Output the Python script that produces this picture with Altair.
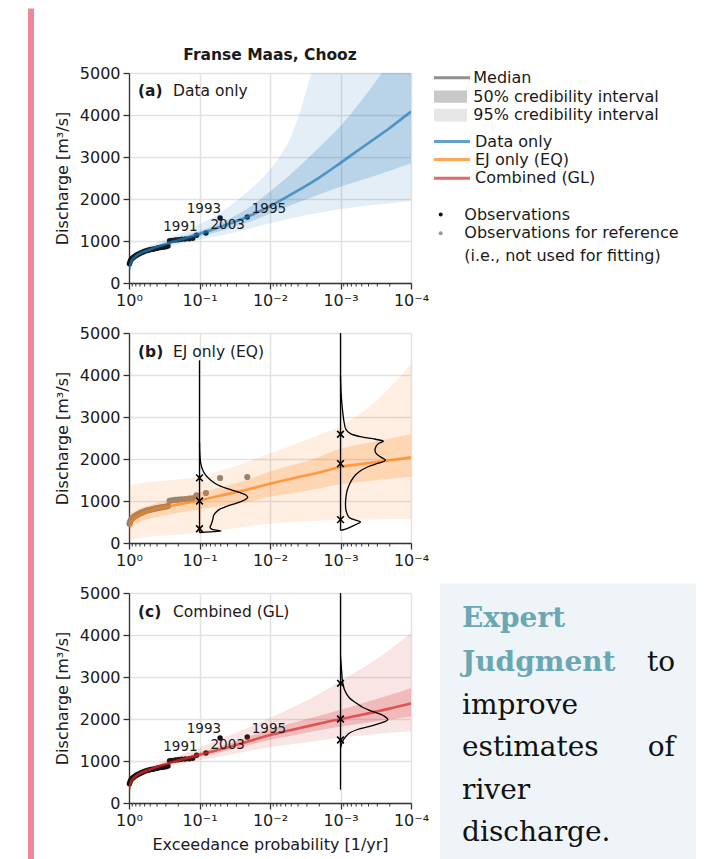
import altair as alt
import pandas as pd

FONT = "DejaVu Sans"
SERIF = "DejaVu Serif"

# ---------------- data ----------------
curve_p = [0.99, 0.95, 0.9, 0.8, 0.7, 0.6, 0.5, 0.4, 0.3, 0.2, 0.1, 0.05, 0.02,
           0.01, 0.005, 0.002, 0.001, 0.0005, 0.0002, 0.0001]

# (a) Data only
a_med = [320, 470, 550, 640, 700, 750, 800, 860, 930, 1020, 1170, 1340, 1590, 1830, 2110, 2510, 2860, 3220, 3690, 4080]
a_lo50 = [270, 420, 510, 600, 670, 720, 770, 830, 890, 980, 1110, 1240, 1450, 1650, 1860, 2110, 2290, 2450, 2670, 2850]
a_hi50 = [380, 520, 590, 680, 740, 790, 840, 900, 970, 1070, 1240, 1430, 1790, 2180, 2600, 3230, 3740, 4350, 5300, 6200]
a_lo95 = [180, 360, 460, 560, 630, 690, 730, 790, 840, 920, 1030, 1130, 1290, 1420, 1540, 1670, 1760, 1830, 1900, 1950]
a_hi95 = [450, 580, 640, 730, 790, 840, 890, 960, 1040, 1150, 1400, 1680, 2200, 2700, 3500, 5600, 7000, 8500, 11000, 13000]

# (b) EJ only (EQ)
b_med = [380, 480, 540, 620, 680, 730, 770, 820, 860, 920, 1010, 1130, 1280, 1410, 1530, 1680, 1810, 1880, 1970, 2040]
b_lo50 = [200, 330, 380, 450, 500, 540, 580, 620, 660, 720, 800, 880, 980, 1100, 1180, 1300, 1400, 1460, 1530, 1580]
b_hi50 = [720, 720, 720, 770, 830, 860, 900, 950, 1000, 1060, 1200, 1330, 1520, 1700, 1850, 2050, 2250, 2360, 2490, 2590]
b_lo95 = [20, 60, 80, 100, 120, 135, 150, 165, 180, 200, 230, 300, 400, 460, 500, 530, 545, 555, 570, 580]
b_hi95 = [1370, 1380, 1390, 1400, 1420, 1435, 1450, 1470, 1490, 1520, 1580, 1720, 1940, 2130, 2320, 2580, 2780, 3100, 3700, 4270]

# (c) Combined (GL)
c_med = [330, 470, 550, 640, 700, 750, 800, 860, 930, 1010, 1150, 1280, 1470, 1620, 1740, 1890, 2000, 2100, 2250, 2370]
c_lo50 = [280, 440, 520, 610, 680, 730, 780, 840, 900, 980, 1100, 1210, 1380, 1500, 1600, 1730, 1820, 1890, 1990, 2060]
c_hi50 = [380, 500, 580, 670, 730, 780, 830, 890, 960, 1050, 1210, 1360, 1580, 1760, 1900, 2080, 2220, 2370, 2570, 2740]
c_lo95 = [150, 380, 470, 570, 640, 690, 740, 790, 850, 920, 1020, 1110, 1240, 1330, 1400, 1490, 1560, 1610, 1670, 1710]
c_hi95 = [460, 570, 630, 710, 770, 820, 870, 940, 1020, 1120, 1320, 1530, 1800, 2030, 2260, 2600, 2900, 3200, 3650, 4050]

# observations (annual maxima) with empirical exceedance probability
obs_p = [0.021, 0.051, 0.081, 0.11, 0.125, 0.14, 0.16, 0.18, 0.2, 0.22, 0.245, 0.265, 0.28, 0.30,
         0.32, 0.34, 0.36, 0.38, 0.40, 0.43, 0.46, 0.49, 0.52, 0.55, 0.58, 0.61, 0.64, 0.67, 0.70,
         0.73, 0.76, 0.79, 0.82, 0.85, 0.88, 0.91, 0.94, 0.965, 0.985]
obs_q = [1571, 1548, 1190, 1136, 1065, 1055, 1048, 1040, 1032, 1025, 1015, 1005, 880, 865,
         858, 850, 845, 838, 830, 818, 805, 795, 785, 775, 765, 750, 735, 720, 705,
         690, 675, 660, 640, 620, 600, 575, 545, 505, 460]

# labelled years
yr_left = ["1995", "2003"]
yr_left_p = [0.021, 0.081]
yr_left_q = [1571, 1190]
yr_right = ["1993", "1991"]
yr_right_p = [0.051, 0.11]
yr_right_q = [1548, 1136]

# expert-judgment densities (width in plot pixels) -- panel b at 1/10 yr
b1_p0 = 0.1
b1_q = [250, 265, 285, 300, 330, 380, 430, 500, 580, 650, 720, 800, 870, 950, 1030, 1090, 1150, 1220, 1300, 1400, 1500, 1620, 1750, 1900, 2100, 2400]
b1_w = [0, 10, 21.5, 19, 12, 10.5, 11.5, 12.5, 13.5, 14, 16, 20, 27, 37, 45.5, 48.3, 46, 38, 27, 17, 11, 6, 3, 1.2, 0.4, 0]
b1_rule = [250, 4350]
b1_x = [340, 1000, 1550]
# panel b at 1/1000 yr
b2_p0 = 0.001
b2_q = [300, 330, 400, 470, 500, 540, 600, 700, 800, 938, 1100, 1255, 1400, 1571, 1700, 1810, 1900, 1969, 2050, 2120, 2200, 2300, 2367, 2420, 2470, 2530, 2605, 2700, 2921, 3238, 3600, 4000]
b2_w = [0, 5, 12, 18, 20, 16, 9, 6.5, 5.3, 5, 5.5, 6.7, 9, 13.3, 19, 27, 38, 45, 40, 36, 34.5, 35.5, 38, 43, 35, 20, 10, 5.5, 3.3, 1.7, 0.5, 0]
b2_rule = [300, 5200]
b2_x = [557, 1890, 2590]
# panel c at 1/1000 yr
c1_p0 = 0.001
c1_q = [1300, 1400, 1507, 1600, 1667, 1750, 1824, 1900, 1983, 2080, 2181, 2280, 2381, 2500, 2698, 2900, 3175, 3490]
c1_w = [0, 1, 3, 6, 9, 17, 29, 40, 47.3, 43, 32, 22, 15.7, 9, 4, 2, 1, 0]
c1_rule = [317, 5200]
c1_x = [1500, 2000, 2850]

decades = [1, 0.1, 0.01, 0.001, 0.0001]
minor_p = [m * 10.0 ** (-k) for k in range(1, 5) for m in range(2, 10)]

# ---------------- layout constants ----------------
W, H = 282, 210
DEC_PX = W / 4.0
BLUE, ORANGE, RED = "#1f77b4", "#ff7f0e", "#d62728"
FS = 16

one = pd.DataFrame({"k": [0]})
xs = alt.Scale(type="log", domain=[0.0001, 1], reverse=True, nice=False)
ys = alt.Scale(domain=[0, 5000], nice=False, zero=False)

LBL = ("datum.value > 0.5 ? '10⁰' : datum.value > 0.05 ? '10⁻¹' : "
       "datum.value > 0.005 ? '10⁻²' : datum.value > 0.0005 ? '10⁻³' : '10⁻⁴'")


def X(field, xtitle):
    return alt.X(f"{field}:Q", scale=xs,
                 axis=alt.Axis(values=decades, labelExpr=LBL, grid=True, labelFlush=False,
                               labelOverlap=False, tickSize=6, labelPadding=3, labelFontSize=FS,
                               title="Exceedance probability [1/yr]" if xtitle else None,
                               titleFontSize=FS, titleFontWeight="normal", titlePadding=8))


def Y(field):
    return alt.Y(f"{field}:Q", scale=ys,
                 axis=alt.Axis(values=[0, 1000, 2000, 3000, 4000, 5000], grid=True, tickSize=6,
                               format="d", labelPadding=3, labelFontSize=FS, title="Discharge [m³/s]",
                               titleFontSize=FS, titleFontWeight="normal", titlePadding=9))


def txt(s, x, y, size=FS, weight="normal", align="left", color="#1a1a1a", font=FONT, baseline="middle"):
    return alt.Chart(one).mark_text(text=s, fontSize=size, fontWeight=weight, align=align,
                                    baseline=baseline, color=color, font=font).encode(
        x=alt.value(x), y=alt.value(y))


def rect(x, x2, y, y2, color):
    return alt.Chart(one).mark_rect(color=color).encode(
        x=alt.value(x), x2=alt.value(x2), y=alt.value(y), y2=alt.value(y2))


def hline(x, x2, y, color, width):
    return alt.Chart(one).mark_rule(color=color, strokeWidth=width).encode(
        x=alt.value(x), x2=alt.value(x2), y=alt.value(y))


def dot(x, y, color, size):
    return alt.Chart(one).mark_circle(color=color, size=size, opacity=1).encode(
        x=alt.value(x), y=alt.value(y))


def density_layers(p0, qs, ws, rule, xq, xtitle):
    dens = pd.DataFrame({"p": [p0 * 10 ** (-w / DEC_PX) for w in ws], "q": qs, "i": list(range(len(qs)))})
    r = pd.DataFrame({"p": [p0], "q": [rule[0]], "q2": [rule[1]]})
    xm = pd.DataFrame({"p": [p0] * len(xq), "q": xq})
    return [
        alt.Chart(r).mark_rule(color="black", strokeWidth=1.3, clip=True).encode(
            x=X("p", xtitle), y=Y("q"), y2="q2"),
        alt.Chart(dens).mark_line(color="black", strokeWidth=1.3, clip=True, interpolate="catmull-rom").encode(
            x=X("p", xtitle), y=Y("q"), order="i:Q"),
        alt.Chart(xm).mark_point(shape="M-1,-1L1,1M-1,1L1,-1", filled=False, color="black",
                                 strokeWidth=1.6, size=45, opacity=1).encode(x=X("p", xtitle), y=Y("q")),
    ]


def panel(color, med, lo50, hi50, lo95, hi95, pt_color, pt_size, xtitle, year_labels, extra_front, tag, name, tag_y):
    df = pd.DataFrame({"p": curve_p, "med": med, "lo50": lo50, "hi50": hi50, "lo95": lo95, "hi95": hi95})
    obs = pd.DataFrame({"p": obs_p, "q": obs_q})
    minor = pd.DataFrame({"p": minor_p})
    layers = [
        alt.Chart(obs).mark_circle(color=pt_color, size=pt_size, opacity=1).encode(x=X("p", xtitle), y=Y("q")),
        alt.Chart(df).mark_area(color=color, opacity=0.12, clip=True, interpolate="monotone").encode(
            x=X("p", xtitle), y=Y("lo95"), y2="hi95"),
        alt.Chart(df).mark_area(color=color, opacity=0.22, clip=True, interpolate="monotone").encode(
            x=X("p", xtitle), y=Y("lo50"), y2="hi50"),
        alt.Chart(df).mark_line(color=color, opacity=0.7, strokeWidth=2.6, clip=True, interpolate="monotone").encode(
            x=X("p", xtitle), y=Y("med")),
        alt.Chart(minor).mark_rule(color="#333333", strokeWidth=1).encode(
            x=X("p", xtitle), y=alt.value(H), y2=alt.value(H + 3.5)),
    ]
    if year_labels:
        lft = pd.DataFrame({"p": yr_left_p, "q": yr_left_q, "t": yr_left})
        rgt = pd.DataFrame({"p": yr_right_p, "q": yr_right_q, "t": yr_right})
        layers.append(alt.Chart(lft).mark_text(align="left", baseline="middle", dx=4.5, dy=-8.5, fontSize=13.5,
                                               font=FONT, color="#1a1a1a").encode(x=X("p", xtitle), y=Y("q"), text="t:N"))
        layers.append(alt.Chart(rgt).mark_text(align="right", baseline="middle", dx=1, dy=-8.5, fontSize=13.5,
                                               font=FONT, color="#1a1a1a").encode(x=X("p", xtitle), y=Y("q"), text="t:N"))
    layers += extra_front
    layers.append(txt(tag, 9, tag_y, size=15.5, weight="bold"))
    layers.append(txt(name, 44, tag_y, size=15.5))
    return layers


PINK = "#f0869a"

# decorations around panel a (coordinates relative to its plot area)
deco_a = [
    rect(-121, -115, -64.5, 786.5, "#ffffff"),
    rect(-101, -95, -64.5, 786.5, PINK),
    txt("Franse Maas, Chooz", 141, -18.5, size=15.5, weight="bold", align="center"),
    hline(305, 341, 4.8, "#8f8f8f", 3),
    txt("Median", 344.3, 4.8),
    rect(305, 338, 17.5, 29.8, "#c8c8c8"),
    txt("50% credibility interval", 344.3, 23.7),
    rect(305, 338, 35.8, 48.5, "#e6e6e6"),
    txt("95% credibility interval", 344.3, 42),
    hline(305, 341, 68.5, "#62a0cd", 3),
    txt("Data only", 346, 68.5),
    hline(305, 341, 86.5, "#ffa657", 3),
    txt("EJ only (EQ)", 346, 86.5),
    hline(305, 341, 105.2, "#e26868", 3),
    txt("Combined (GL)", 346, 105.2),
    dot(311.7, 141.5, "#111111", 16),
    txt("Observations", 335.3, 141.5),
    dot(311.7, 160.2, "#999999", 16),
    txt("Observations for reference", 335.3, 160.2),
    txt("(i.e., not used for fitting)", 335.3, 183),
]

TEAL = "#6ba7b3"
deco_c = [
    rect(311, 567, -9.5, 266.5, "#eef4f7"),
    txt("Expert", 333, 34.2, size=28, weight="bold", color=TEAL, font=SERIF, baseline="alphabetic"),
    txt("Judgment", 333, 77.5, size=28, weight="bold", color=TEAL, font=SERIF, baseline="alphabetic"),
    txt("to", 546, 77.5, size=28, color="#111111", font=SERIF, baseline="alphabetic", align="right"),
    txt("improve", 333, 120.5, size=28, color="#111111", font=SERIF, baseline="alphabetic"),
    txt("estimates", 333, 163, size=28, color="#111111", font=SERIF, baseline="alphabetic"),
    txt("of", 546, 163, size=28, color="#111111", font=SERIF, baseline="alphabetic", align="right"),
    txt("river", 333, 205.5, size=28, color="#111111", font=SERIF, baseline="alphabetic"),
    txt("discharge.", 333, 248, size=28, color="#111111", font=SERIF, baseline="alphabetic"),
]

pa = alt.layer(*panel(BLUE, a_med, a_lo50, a_hi50, a_lo95, a_hi95, "#111111", 30, False, True,
                      [], "(a)", "Data only", 17.5), *deco_a).properties(width=W, height=H)

dens_b = density_layers(b1_p0, b1_q, b1_w, b1_rule, b1_x, False) + \
    density_layers(b2_p0, b2_q, b2_w, b2_rule, b2_x, False)
pb = alt.layer(*panel(ORANGE, b_med, b_lo50, b_hi50, b_lo95, b_hi95, "#858585", 38, False, False,
                      dens_b, "(b)", "EJ only (EQ)", 19)).properties(width=W, height=H)

dens_c = density_layers(c1_p0, c1_q, c1_w, c1_rule, c1_x, True)
pc = alt.layer(*panel(RED, c_med, c_lo50, c_hi50, c_lo95, c_hi95, "#111111", 30, True, True,
                      dens_c, "(c)", "Combined (GL)", 18.5), *deco_c).properties(width=W, height=H)

chart = alt.vconcat(pa, pb, pc, spacing=50, bounds="flush").properties(
    padding=0, background="#ffffff"
).configure_view(stroke=None).configure_axis(
    labelFont=FONT, titleFont=FONT, labelColor="#1a1a1a", titleColor="#1a1a1a",
    domainColor="#333333", domainWidth=1.3, tickColor="#333333", tickWidth=1.3,
    gridColor="#e2e2e2", gridWidth=1.5
)

chart.save("out.html", embed_options={"renderer": "svg", "actions": False})
